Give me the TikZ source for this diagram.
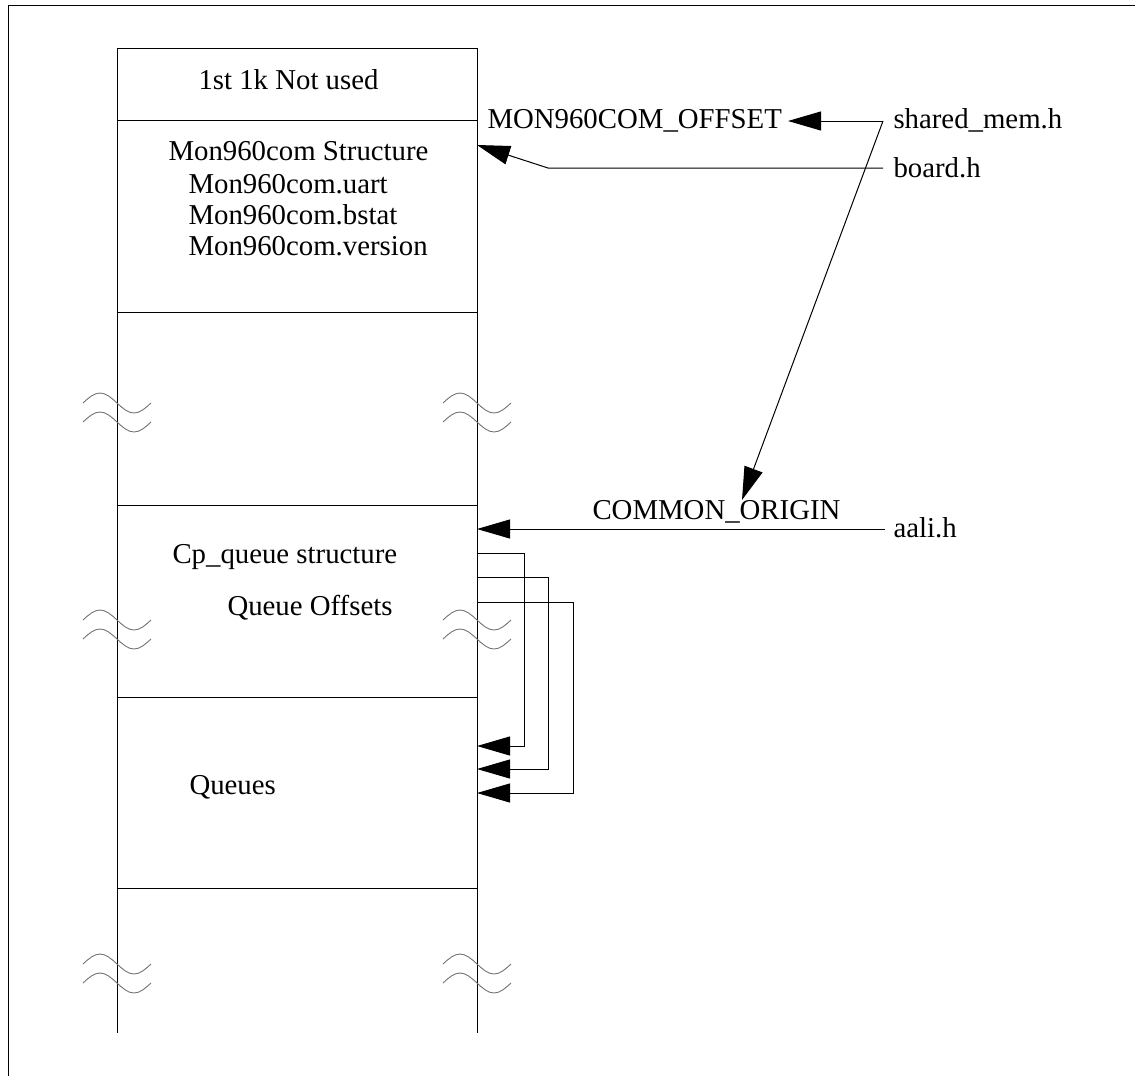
\documentclass[tikz,border=0pt]{standalone}
\usepackage{fontspec}
\setmainfont{Liberation Serif}
\usetikzlibrary{arrows.meta}

\begin{document}
\begin{tikzpicture}[x=0.5pt, y=-0.5pt, line width=0.5pt,
    >={Triangle[length=16.5pt,width=9.5pt]},
    lbl/.style={anchor=base west, inner sep=0pt, font=\fontsize{14.4}{17}\selectfont},
    brk/.style={black!55, line width=0.45pt}]

\useasboundingbox (0,0) rectangle (1135,1076);

% ==== FRAME ====
\draw (8,1076) -- (8,5) -- (1135,5);

% ==== MEMORY COLUMN ====
\draw (117,48) -- (117,1033);
\draw (477,48) -- (477,1033);
\foreach \y in {48,120,312,505,697,888}{
    \draw (117,\y) -- (477,\y);
}

% ==== BREAK MARKS ====
\foreach \cx in {117,477}{
  \foreach \cy in {403,620,964}{
    \foreach \dy in {0,19}{
      \draw[brk] ({\cx-34},{\cy+\dy}) sin ({\cx-17},{\cy+\dy-10}) cos ({\cx},{\cy+\dy})
          sin ({\cx+17},{\cy+\dy+10}) cos ({\cx+34},{\cy+\dy});
    }
  }
}

% ==== BLOCK TEXTS ====
\node[lbl] (notused) at (198,89) {1st 1k Not used};
\node[lbl] (monstr)  at (168,160) {Mon960com Structure};
\node[lbl] (uart)    at (188,193) {Mon960com.uart};
\node[lbl] (bstat)   at (188,224) {Mon960com.bstat};
\node[lbl] (version) at (188,255) {Mon960com.version};
\node[lbl] (cpq)     at (172,563) {Cp\_queue structure};
\node[lbl] (qoff)    at (227,615) {Queue Offsets};
\node[lbl] (queues)  at (189,794) {Queues};

% ==== SYMBOLS AND HEADERS ====
\node[lbl] (offset) at (487,128) {MON960COM\_OFFSET};
\node[lbl] (origin) at (592,519) {COMMON\_ORIGIN};
\node[lbl] (shm)    at (893,128) {shared\_mem.h};
\node[lbl] (board)  at (893,177) {board.h};
\node[lbl] (aali)   at (893,537) {aali.h};

% ==== ARROW ENDS ====
\coordinate (shmL)   at (883,121);
\coordinate (boardL) at (883,168);
\coordinate (aaliL)  at (885,529);
\coordinate (offTip) at (788,121);
\coordinate (orgTip) at (742,500);
\coordinate (bend)   at (548,168);
\coordinate (strTip) at (477,145);
\coordinate (cpTip)  at (477,529);

\draw[->] (shmL) -- (offTip);
\draw[->] (shmL) -- (orgTip);
\draw[->] (boardL) -- (bend) -- (strTip);
\draw[->] (aaliL) -- (cpTip);

% ==== QUEUE OFFSET ARROWS ====
\foreach \i/\ys/\w/\ye in {1/553/47/746, 2/577/71/769, 3/602/96/793}{
    \coordinate (qs\i) at (477,\ys);
    \coordinate (qe\i) at (477,\ye);
    \draw[->] (qs\i) -- ++(\w,0) |- (qe\i);
}

\end{tikzpicture}
\end{document}
